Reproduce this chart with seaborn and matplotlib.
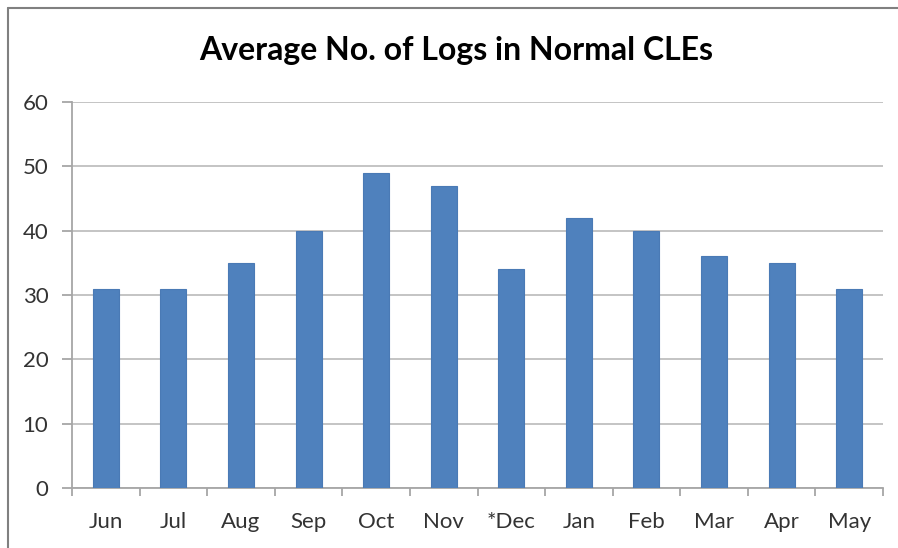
import matplotlib
matplotlib.use("Agg")
import matplotlib.pyplot as plt
import seaborn as sns
import pandas as pd
import numpy as np
from matplotlib.lines import Line2D

months = ['Jun', 'Jul', 'Aug', 'Sep', 'Oct', 'Nov', '*Dec', 'Jan', 'Feb', 'Mar', 'Apr', 'May']
avg_logs = [31, 31, 35, 40, 49, 47, 34, 42, 40, 36, 35, 31]
y_ticks = [0, 10, 20, 30, 40, 50, 60]

sns.set_theme(style='white')
plt.rcParams['font.family'] = ['Lato', 'DejaVu Sans']

df = pd.DataFrame({'month': months, 'logs': avg_logs})

fig = plt.figure(figsize=(8.98, 5.48), dpi=100)
ax = fig.add_axes([0.0802, 0.1095, 0.9031, 0.7044])

sns.barplot(data=df, x='month', y='logs', color='#4f81bd', saturation=1,
            width=0.385, edgecolor='#4a7ab5', linewidth=0.8, ax=ax, zorder=3)

ax.set_xlim(-0.5, len(months) - 0.5)
ax.set_ylim(0, 60)
ax.set_yticks(y_ticks)
ax.set_xlabel('')
ax.set_ylabel('')

# gridlines
ax.yaxis.grid(True, color='#bfbfbf', linewidth=1.3)
ax.set_axisbelow(True)

for s in ['top', 'right']:
    ax.spines[s].set_visible(False)
ax.spines['left'].set_color('#a6a6a6')
ax.spines['bottom'].set_color('#a6a6a6')
ax.spines['left'].set_linewidth(1.3)
ax.spines['bottom'].set_linewidth(1.3)

# x ticks at category boundaries (Excel style)
ax.set_xticks(np.arange(-0.5, len(months) + 0.5, 1), minor=True)
ax.tick_params(axis='x', which='major', length=0, pad=17, labelsize=16, labelcolor='#333333')
ax.tick_params(axis='x', which='minor', bottom=True, length=6, width=1.3, color='#a6a6a6', direction='out')
ax.tick_params(axis='y', which='major', left=True, length=7, width=1.3, color='#a6a6a6',
               pad=10, labelsize=16, labelcolor='#333333')

fig.suptitle('Average No. of Logs in Normal CLEs', x=0.508, y=0.935, fontsize=23,
             fontweight='bold', color='black')

# chart border (only top and left visible in the cropped screenshot)
fig.add_artist(Line2D([0.009, 1.0], [0.985, 0.985], transform=fig.transFigure,
                      color='#808080', linewidth=1.5))
fig.add_artist(Line2D([0.009, 0.009], [0.0, 0.985], transform=fig.transFigure,
                      color='#808080', linewidth=1.5))

plt.savefig('out.png', dpi=100)
plt.close(fig)
